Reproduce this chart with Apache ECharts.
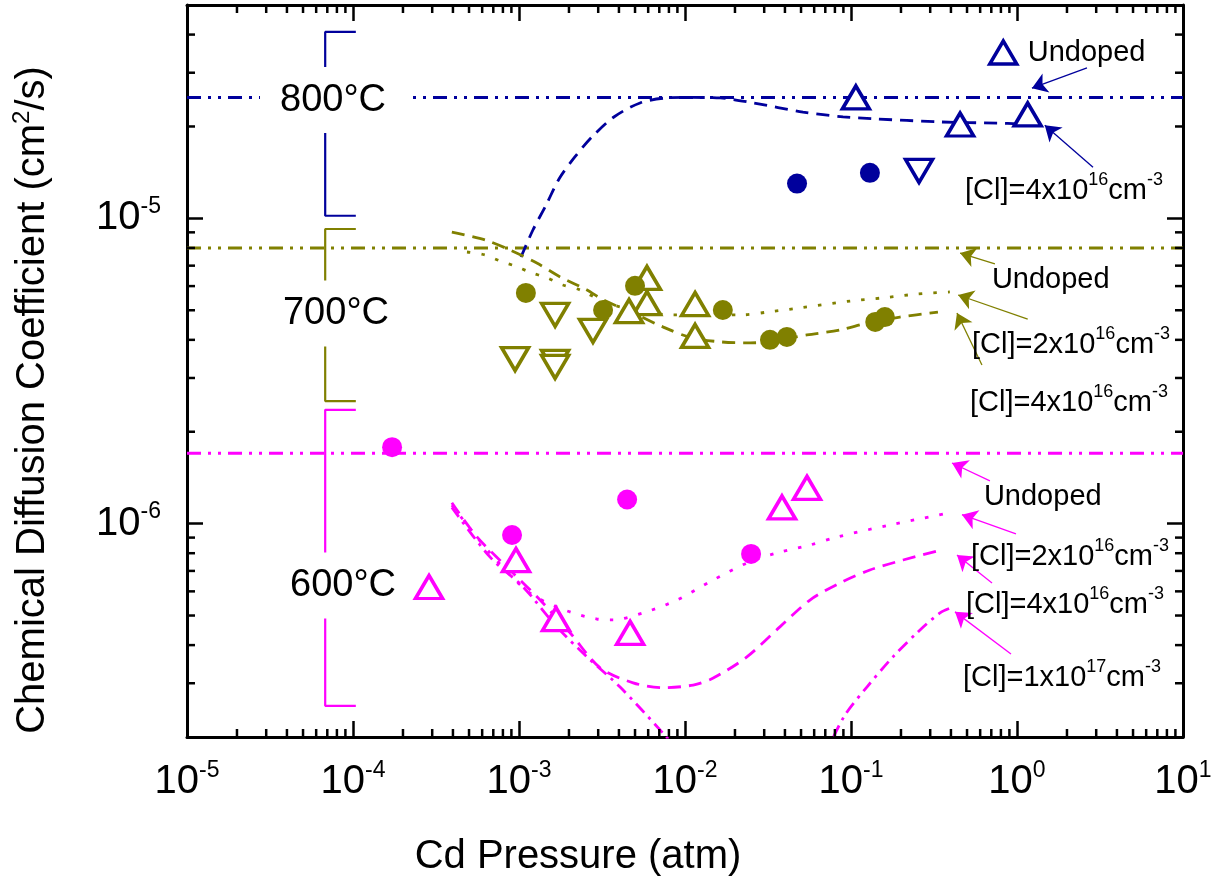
<!DOCTYPE html>
<html>
<head>
<meta charset="utf-8">
<script src="https://cdn.jsdelivr.net/npm/echarts@6/dist/echarts.min.js"></script>
<style>
  html, body { margin: 0; padding: 0; background: #fff; }
  #chart { width: 1226px; height: 888px; }
</style>
</head>
<body>
<div id="chart"></div>
<script>
// Colours and font
const NAVY = '#00009c';
const OLIVE = '#808000';
const MAGENTA = '#ff00ff';
const FONT = '"Liberation Sans", Arial, Helvetica, sans-serif';

// Axis ranges (both axes logarithmic)
const X_MIN = 1e-5, X_MAX = 10;
const Y_MIN = 2e-7, Y_MAX = 5e-5;

// ---- 800 °C ----
const undoped800 = 2.49e-5;
const cl4Curve800 = [
  [1.028e-3, 7.47e-6], [1.213e-3, 9.16e-6], [1.456e-3, 1.106e-5], [1.742e-3, 1.346e-5],
  [2.17e-3, 1.589e-5], [2.75e-3, 1.848e-5], [3.73e-3, 2.148e-5], [5.36e-3, 2.388e-5],
  [7.69e-3, 2.48e-5], [1.07e-2, 2.49e-5], [1.63e-2, 2.48e-5], [2.57e-2, 2.39e-5],
  [5.14e-2, 2.23e-5], [8.95e-2, 2.15e-5], [0.136, 2.12e-5], [0.344, 2.07e-5],
  [0.769, 2.05e-5], [1.04, 2.04e-5]
];
const upTri800 = [[0.107, 2.49e-5], [0.454, 2.03e-5], [1.16, 2.19e-5]];
const downTri800 = [[0.257, 1.43e-5]];
const dots800 = [[0.0473, 1.30e-5], [0.130, 1.41e-5]];

// ---- 700 °C ----
const undoped700 = 8.0e-6;
const cl2Curve700 = [
  [4.86e-4, 7.76e-6], [6.23e-4, 7.59e-6], [7.69e-4, 7.25e-6], [9.47e-4, 6.98e-6],
  [1.16e-3, 6.67e-6], [1.48e-3, 6.38e-6], [1.84e-3, 6.05e-6], [2.33e-3, 5.83e-6],
  [3.39e-3, 5.28e-6], [5.36e-3, 4.97e-6], [8.47e-3, 4.83e-6], [2.23e-2, 4.83e-6],
  [3.12e-2, 4.93e-6], [4.93e-2, 5.09e-6], [9.86e-2, 5.36e-6], [0.156, 5.49e-6],
  [0.250, 5.65e-6], [0.394, 5.74e-6]
];
const cl4Curve700 = [
  [3.94e-4, 9.02e-6], [6.23e-4, 8.50e-6], [8.83e-4, 7.88e-6], [1.28e-3, 7.14e-6],
  [1.77e-3, 6.43e-6], [2.57e-3, 5.83e-6], [3.21e-3, 5.41e-6], [4.87e-3, 4.90e-6],
  [7.36e-3, 4.41e-6], [1.07e-2, 4.08e-6], [1.63e-2, 3.94e-6], [2.47e-2, 3.91e-6],
  [3.12e-2, 3.94e-6], [5.43e-2, 4.15e-6], [8.59e-2, 4.31e-6], [0.125, 4.54e-6],
  [0.197, 4.75e-6], [0.334, 4.93e-6]
];
const upTri700 = [[5.90e-3, 6.38e-6], [5.90e-3, 5.28e-6], [4.60e-3, 4.97e-6], [1.15e-2, 5.24e-6], [1.15e-2, 4.12e-6]];
const downTri700 = [[1.65e-3, 4.83e-6], [2.79e-3, 4.28e-6], [9.47e-4, 3.46e-6], [1.65e-3, 3.39e-6], [1.65e-3, 3.26e-6]];
const dots700 = [[1.10e-3, 5.70e-6], [3.21e-3, 5.01e-6], [5.00e-3, 6.01e-6], [1.69e-2, 5.01e-6],
                 [3.25e-2, 4.00e-6], [4.11e-2, 4.09e-6], [0.140, 4.58e-6], [0.160, 4.75e-6]];

// ---- 600 °C ----
const undoped600 = 1.70e-6;
const cl2Curve600 = [
  [3.94e-4, 1.15e-6], [6.68e-4, 8.02e-7], [1.16e-3, 5.93e-7], [1.89e-3, 5.21e-7],
  [2.95e-3, 4.87e-7], [3.68e-3, 4.84e-7], [5.58e-3, 5.10e-7], [8.95e-3, 5.62e-7],
  [1.48e-2, 6.54e-7], [2.36e-2, 7.43e-7], [3.58e-2, 8.02e-7], [5.66e-2, 8.51e-7],
  [8.24e-2, 9.04e-7], [0.172, 9.90e-7], [0.378, 1.08e-6]
];
const cl4Curve600 = [
  [3.94e-4, 1.17e-6], [5.58e-4, 9.05e-7], [9.20e-4, 6.89e-7], [1.34e-3, 5.62e-7],
  [2.03e-3, 4.39e-7], [3.08e-3, 3.37e-7], [4.87e-3, 3.01e-7], [7.36e-3, 2.90e-7],
  [1.12e-2, 2.96e-7], [1.48e-2, 3.12e-7], [2.36e-2, 3.66e-7], [3.73e-2, 4.59e-7],
  [5.66e-2, 5.62e-7], [8.59e-2, 6.39e-7], [0.130, 7.05e-7], [0.206, 7.60e-7], [0.334, 8.14e-7]
];
const cl10Curve600 = [
  [3.94e-4, 1.13e-6], [6.68e-4, 7.78e-7], [1.06e-3, 6.20e-7], [1.69e-3, 4.59e-7],
  [2.57e-3, 3.66e-7], [4.05e-3, 2.92e-7], [7.36e-3, 2.06e-7], [1.23e-2, 1.50e-7],
  [2.14e-2, 1.24e-7], [3.73e-2, 1.24e-7], [6.07e-2, 1.56e-7], [9.20e-2, 2.36e-7],
  [0.125, 2.92e-7], [0.179, 3.66e-7], [0.250, 4.39e-7], [0.344, 5.10e-7], [0.411, 5.33e-7]
];
const upTri600 = [[2.87e-4, 6.20e-7], [9.59e-4, 7.60e-7], [1.67e-3, 4.87e-7], [4.67e-3, 4.39e-7],
                  [3.84e-2, 1.13e-6], [5.43e-2, 1.31e-6]];
const dots600 = [[1.72e-4, 1.78e-6], [9.08e-4, 9.18e-7], [4.48e-3, 1.20e-6], [2.50e-2, 7.96e-7]];

// Temperature range brackets
const bracket800 = [[1.04e-4, 4.08e-5], [6.8e-5, 4.08e-5], [6.8e-5, 1.02e-5], [1.04e-4, 1.02e-5]];
const bracket700 = [[1.04e-4, 9.23e-6], [6.8e-5, 9.23e-6], [6.8e-5, 2.52e-6], [1.04e-4, 2.52e-6]];
const bracket600 = [[1.04e-4, 2.36e-6], [6.8e-5, 2.36e-6], [6.8e-5, 2.53e-7], [1.04e-4, 2.53e-7]];

// Temperature labels
const tempNames = ['800°C', '700°C', '600°C'];
const tempAnchors = [[7.58e-5, 2.44e-5], [7.90e-5, 4.88e-6], [8.71e-5, 6.27e-7]];

// Curve captions (left end of the text) and their arrows [tail, tip]
const CL2 = '[Cl]=2x10{s|16}cm{s|-3}';
const CL4 = '[Cl]=4x10{s|16}cm{s|-3}';
const CL10 = '[Cl]=1x10{s|17}cm{s|-3}';
const notes800 = [[CL4, 0.486, 1.23e-5]];
const notes700 = [['Undoped', 0.706, 6.28e-6], [CL2, 0.536, 3.85e-6], [CL4, 0.521, 2.48e-6]];
const notes600 = [['Undoped', 0.632, 1.22e-6], [CL2, 0.528, 7.78e-7], [CL4, 0.493, 5.42e-7], [CL10, 0.473, 3.12e-7]];
const arrows800 = [[[2.64, 3.11e-5], [1.23, 2.67e-5]], [[2.87, 1.47e-5], [1.47, 2.02e-5]]];
const arrows700 = [[[0.736, 7.09e-6], [0.454, 7.70e-6]], [[1.16, 4.68e-6], [0.442, 5.61e-6]], [[0.615, 3.31e-6], [0.435, 4.90e-6]]];
const arrows600 = [[[0.687, 1.38e-6], [0.406, 1.58e-6]], [[0.986, 9.25e-7], [0.466, 1.07e-6]],
                   [[0.707, 6.39e-7], [0.435, 7.89e-7]], [[0.920, 3.74e-7], [0.423, 5.14e-7]]];

// Line dash patterns
const DASH = [13, 8];
const DOT = [3.5, 11];
const DASH_DOT = [12, 6, 3, 6];
const DASH_DOT_DOT = [14, 7, 3, 7, 3, 7];

// Minor tick positions of the log axes
const minorX = [];
for (let e = -5; e < 1; e++) for (let k = 2; k <= 9; k++) minorX.push(k * Math.pow(10, e));
const minorY = [];
for (let e = -7; e <= -5; e++) for (let k = 2; k <= 9; k++) {
  const v = k * Math.pow(10, e);
  if (v > Y_MIN * 1.001 && v < Y_MAX * 0.999) minorY.push(v);
}

function powerLabel(v) {
  const e = Math.round(Math.log10(v));
  if (Math.abs(v / Math.pow(10, e) - 1) > 1e-6) return '';
  return '{b|10}{s|' + e + '}';
}
const tickRich = {
  b: { fontSize: 40, lineHeight: 46, fontFamily: FONT, color: '#000' },
  s: { fontSize: 23, lineHeight: 24, verticalAlign: 'top', fontFamily: FONT, color: '#000' }
};
const supRich = { s: { fontSize: 18, lineHeight: 18, verticalAlign: 'top', fontFamily: FONT, color: '#000' } };

const axisCommon = {
  axisLine: { show: true, onZero: false, lineStyle: { color: '#000', width: 3 } },
  axisTick: { show: true, inside: true, length: 16, lineStyle: { color: '#000', width: 2.5 } },
  splitLine: { show: false },
  minorTick: { show: false },
  minorSplitLine: { show: false }
};

function curve(data, color, dash) {
  return { type: 'line', data, symbol: 'none', showSymbol: false, smooth: 0.3, clip: true,
           lineStyle: { color, width: 2.8, type: dash }, z: 2, silent: true };
}
function level(y, color) {
  return { type: 'line', data: [[X_MIN, y], [X_MAX, y]], symbol: 'none', showSymbol: false,
           lineStyle: { color, width: 3, type: DASH_DOT_DOT }, z: 2, silent: true };
}
function bracket(data, color) {
  return { type: 'line', data, symbol: 'none', showSymbol: false,
           lineStyle: { color, width: 2.2, type: 'solid' }, z: 2, silent: true };
}
function dots(data, color) {
  return { type: 'scatter', data, symbol: 'circle', symbolSize: 20, itemStyle: { color, opacity: 1 }, z: 6, silent: true };
}
function triangles(data, color, down, name) {
  return { type: 'scatter', name, data, symbol: 'triangle', symbolSize: [27, 23], symbolRotate: down ? 180 : 0,
           itemStyle: { color: '#fff', borderColor: color, borderWidth: 3.5, opacity: 1 }, z: 5, silent: true };
}
function arrows(list, color) {
  return { type: 'lines', coordinateSystem: 'cartesian2d', data: list.map(c => ({ coords: c })),
           symbol: ['none', 'arrow'], symbolSize: 15, lineStyle: { color, width: 1.3, opacity: 1, curveness: 0 },
           z: 4, silent: true };
}
function notes(list) {
  return { type: 'scatter', symbolSize: 0, z: 4, silent: true, itemStyle: { opacity: 1 },
           data: list.map(n => ({ value: [n[1], n[2]], label: { formatter: n[0] } })),
           label: { show: true, position: 'right', distance: 0, fontSize: 29, lineHeight: 40,
                    fontFamily: FONT, color: '#000', rich: supRich } };
}

const chart = echarts.init(document.getElementById('chart'), null, { renderer: 'canvas' });
chart.setOption({
  animation: false,
  backgroundColor: '#fff',
  textStyle: { fontFamily: FONT },
  grid: { left: 187, right: 43, top: 5, bottom: 151, containLabel: false, outerBoundsMode: 'none' },
  legend: {
    data: ['Undoped'], left: 988, top: 38, padding: 0, itemWidth: 27, itemHeight: 23,
    selectedMode: false, itemStyle: { borderWidth: 3.5, opacity: 1 },
    formatter: '{t|Undoped}',
    textStyle: { fontSize: 29, fontFamily: FONT, color: '#000',
                 rich: { t: { fontSize: 29, fontFamily: FONT, color: '#000', padding: [0, 0, 0, 6] } } }
  },
  xAxis: [
    Object.assign({}, axisCommon, {
      type: 'log', logBase: 10, min: X_MIN, max: X_MAX, position: 'bottom',
      axisLabel: { show: true, margin: 22, formatter: powerLabel, rich: tickRich },
      name: 'Cd Pressure (atm)', nameLocation: 'middle', nameGap: 97,
      nameTextStyle: { fontSize: 40, lineHeight: 46, fontFamily: FONT, color: '#000', padding: [0, 214, 0, 0] }
    }),
    Object.assign({}, axisCommon, {
      type: 'log', logBase: 10, min: X_MIN, max: X_MAX, position: 'top', axisLabel: { show: false }
    })
  ],
  yAxis: [
    Object.assign({}, axisCommon, {
      type: 'log', logBase: 10, min: Y_MIN, max: Y_MAX, position: 'left',
      axisLabel: { show: true, margin: 26, formatter: powerLabel, rich: tickRich },
      name: 'Chemical Diffusion Coefficient (cm{s|2}/s)', nameLocation: 'middle', nameGap: 131,
      nameTextStyle: { fontSize: 40, lineHeight: 46, fontFamily: FONT, color: '#000', padding: [0, 58, 0, 0],
        rich: { s: { fontSize: 24, lineHeight: 24, verticalAlign: 'top', fontFamily: FONT, color: '#000' } } }
    }),
    Object.assign({}, axisCommon, {
      type: 'log', logBase: 10, min: Y_MIN, max: Y_MAX, position: 'right', axisLabel: { show: false }
    })
  ],
  series: [
    // minor ticks on all four sides
    {
      type: 'custom', silent: true, z: 10,
      dimensions: ['x', 'y', 'k'], encode: { x: 0, y: 1 },
      data: minorX.map(v => [v, Y_MIN, 0]).concat(minorY.map(v => [X_MIN, v, 1])),
      renderItem(params, api) {
        const cs = params.coordSys, L = 8;
        const st = { stroke: '#000', lineWidth: 2.5 };
        if (api.value(2) === 0) {
          const x = api.coord([api.value(0), Y_MIN])[0];
          return { type: 'group', children: [
            { type: 'line', shape: { x1: x, y1: cs.y + cs.height, x2: x, y2: cs.y + cs.height - L }, style: st },
            { type: 'line', shape: { x1: x, y1: cs.y, x2: x, y2: cs.y + L }, style: st }
          ] };
        }
        const y = api.coord([X_MIN, api.value(1)])[1];
        return { type: 'group', children: [
          { type: 'line', shape: { x1: cs.x, y1: y, x2: cs.x + L, y2: y }, style: st },
          { type: 'line', shape: { x1: cs.x + cs.width, y1: y, x2: cs.x + cs.width - L, y2: y }, style: st }
        ] };
      }
    },
    // reference levels of undoped samples
    level(undoped800, NAVY), level(undoped700, OLIVE), level(undoped600, MAGENTA),
    // model curves for Cl-doped samples
    curve(cl4Curve800, NAVY, DASH),
    curve(cl2Curve700, OLIVE, DOT), curve(cl4Curve700, OLIVE, DASH),
    curve(cl2Curve600, MAGENTA, DOT), curve(cl4Curve600, MAGENTA, DASH), curve(cl10Curve600, MAGENTA, DASH_DOT),
    // temperature brackets
    bracket(bracket800, NAVY), bracket(bracket700, OLIVE), bracket(bracket600, MAGENTA),
    // measured points
    triangles(upTri800, NAVY, false, 'Undoped'), triangles(downTri800, NAVY, true, 'down800'),
    triangles(upTri700, OLIVE, false, 'up700'), triangles(downTri700, OLIVE, true, 'down700'),
    triangles(upTri600, MAGENTA, false, 'up600'),
    dots(dots800, NAVY), dots(dots700, OLIVE), dots(dots600, MAGENTA),
    // captions and arrows
    arrows(arrows800, NAVY), arrows(arrows700, OLIVE), arrows(arrows600, MAGENTA),
    notes(notes800), notes(notes700), notes(notes600),
    {
      type: 'scatter', symbolSize: 0, z: 4, silent: true, itemStyle: { opacity: 1 },
      data: tempNames.map((t, i) => ({ value: tempAnchors[i], label: { formatter: t, padding: i === 0 ? [14, 20] : [14, 10] } })),
      label: { show: true, position: 'inside', fontSize: 38, lineHeight: 38, fontFamily: FONT, color: '#000',
               backgroundColor: '#fff' }
    }
  ]
});
</script>
</body>
</html>
